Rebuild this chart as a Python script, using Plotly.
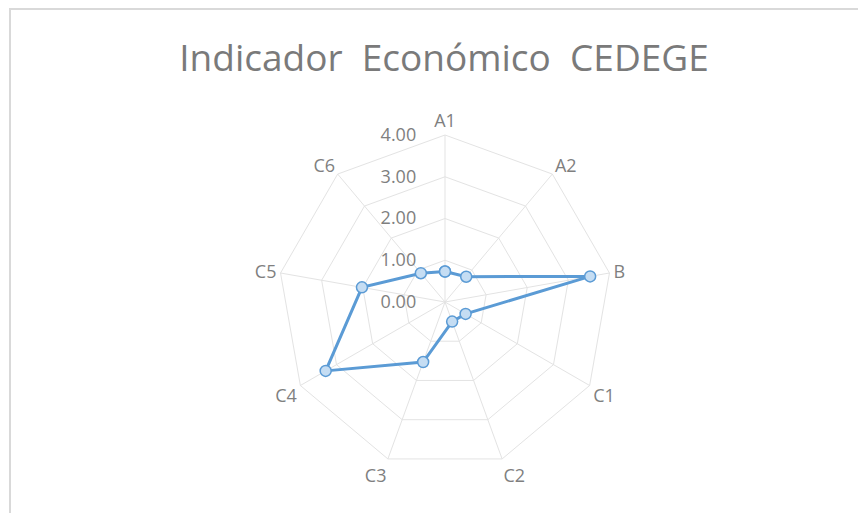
import plotly.graph_objects as go

categories = ["A1", "A2", "B", "C1", "C2", "C3", "C4", "C5", "C6"]
values = [0.73, 0.79, 3.53, 0.57, 0.50, 1.53, 3.30, 2.02, 0.90]
radial_ticks = [0, 1, 2, 3, 4]
radial_tick_labels = ["0.00", "1.00", "2.00", "3.00", "4.00"]

# page has an 8px body margin; figure size reduced so it fits the window
OFF = 8
W, H = 866 - OFF, 513 - OFF
cx, cy, R = 445 - OFF, 302 - OFF, 167

fig = go.Figure()
fig.add_trace(go.Scatterpolar(
    r=values + [values[0]],
    theta=categories + [categories[0]],
    mode="lines+markers",
    line=dict(color="#5B9BD5", width=3),
    marker=dict(size=11, color="#C5DDF3", line=dict(color="#5B9BD5", width=1.5)),
    showlegend=False,
))

gray = "#7F7F7F"
fig.update_layout(
    width=W, height=H,
    margin=dict(l=0, r=0, t=0, b=0),
    paper_bgcolor="white",
    font=dict(family="Open Sans", color=gray),
    title=dict(text="Indicador  Económico  CEDEGE", x=(444 - OFF) / W, xanchor="center",
               y=1 - (58 - OFF) / H, yanchor="middle",
               font=dict(family="Open Sans", size=37, color="#7A7A7A")),
    polar=dict(
        domain=dict(x=[(cx - R) / W, (cx + R) / W], y=[(H - cy - R) / H, (H - cy + R) / H]),
        gridshape="linear",
        bgcolor="white",
        radialaxis=dict(
            range=[0, 4], tickvals=radial_ticks, ticktext=radial_tick_labels,
            angle=90, tickangle=90, side="counterclockwise", showline=False,
            ticks="outside", ticklen=22, tickcolor="rgba(0,0,0,0)",
            gridcolor="#E3E3E3", gridwidth=1,
            tickfont=dict(size=18, color=gray),
        ),
        angularaxis=dict(
            rotation=90, direction="clockwise",
            showline=True, linecolor="#E3E3E3", linewidth=1,
            gridcolor="#E3E3E3", ticks="",
            tickfont=dict(size=18, color=gray),
        ),
    ),
    shapes=[dict(type="rect", xref="paper", yref="paper",
                 x0=(10 - OFF) / W, y0=-0.1, x1=1.1, y1=1 - (9 - OFF) / H,
                 line=dict(color="#D9D9D9", width=2), fillcolor="rgba(0,0,0,0)")],
)

fig.write_html("out.html")
